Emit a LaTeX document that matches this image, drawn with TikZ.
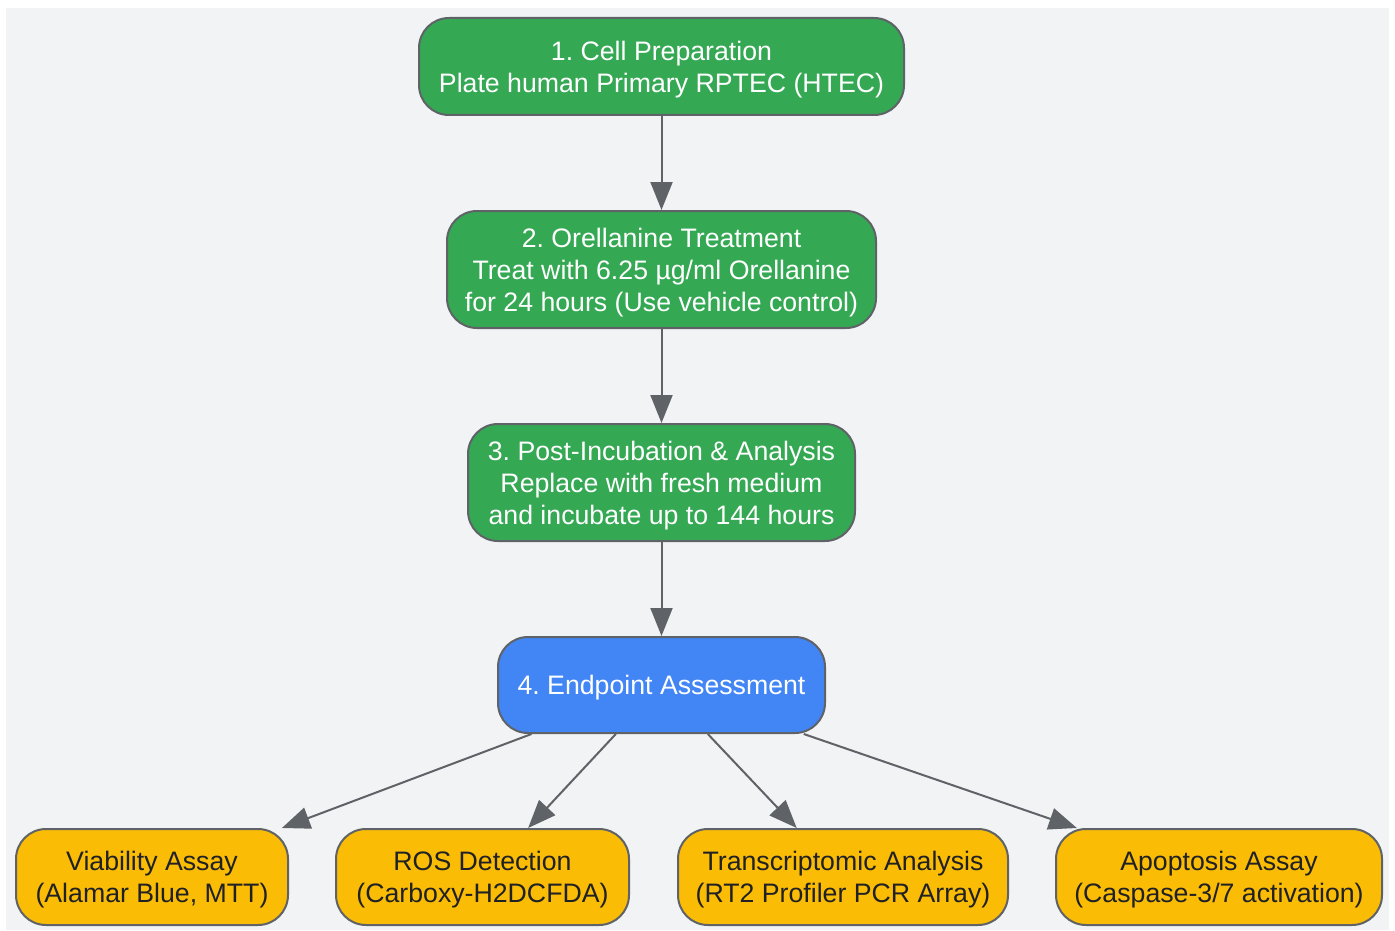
\documentclass[tikz,border=0pt]{standalone}
\usepackage{fontspec}
\setmainfont{Liberation Sans}
\usetikzlibrary{arrows.meta}
\definecolor{bggray}{HTML}{F1F3F4}
\definecolor{edgegray}{HTML}{5F6368}
\definecolor{stepgreen}{HTML}{34A853}
\definecolor{stepblue}{HTML}{4285F4}
\definecolor{stepyellow}{HTML}{FBBC05}
\definecolor{darktext}{HTML}{202124}
\frenchspacing
% strut that pushes the first line down a little
\newcommand{\topstrut}{\rule{0pt}{25.5pt}}

\begin{document}
\begin{tikzpicture}[x=1pt, y=-1pt,
        box/.style={draw=edgegray, line width=2, rounded corners=30, align=center, inner sep=0,
            font=\fontsize{26.7}{32}\selectfont},
        greenbox/.style={box, fill=stepgreen, text=white},
        bluebox/.style={box, fill=stepblue, text=white},
        yellowbox/.style={box, fill=stepyellow, text=darktext, minimum height=96},
        arr/.style={draw=edgegray, line width=2, -{Triangle[length=28, width=22]}}]
            \useasboundingbox (0,0) rectangle (1395,931);
            \fill[white] (0,0) rectangle (1395,931);
            \fill[bggray] (6,8) rectangle (1389,930);

            \node[greenbox, minimum width=485, minimum height=97] (prep) at (661.5,66.5) {\topstrut 1. Cell Preparation\\Plate human Primary RPTEC (HTEC)};
            \node[greenbox, minimum width=429, minimum height=117] (treat) at (661.5,269.5) {\topstrut 2. Orellanine Treatment\\Treat with 6.25 µg/ml Orellanine\\for 24 hours (Use vehicle control)};
            \node[greenbox, minimum width=387, minimum height=117] (post) at (661.5,482.5) {\topstrut 3. Post-Incubation \& Analysis\\Replace with fresh medium\\and incubate up to 144 hours};
            \node[bluebox, minimum width=327, minimum height=96] (endp) at (661.5,685) {\topstrut 4. Endpoint Assessment};

            \node[yellowbox, minimum width=272] (viab) at (152,877) {\topstrut Viability Assay\\(Alamar Blue, MTT)};
            \node[yellowbox, minimum width=293] (ros) at (482.5,877) {\topstrut ROS Detection\\(Carboxy-H2DCFDA)};
            \node[yellowbox, minimum width=330] (trans) at (843,877) {\topstrut Transcriptomic Analysis\\(RT2 Profiler PCR Array)};
            \node[yellowbox, minimum width=326] (apop) at (1219,877) {\topstrut Apoptosis Assay\\(Caspase-3/7 activation)};

            \draw[arr] (prep) -- (treat);
            \draw[arr] (treat) -- (post);
            \draw[arr] (post) -- (endp);
            \draw[arr] (endp) -- (viab);
            \draw[arr] (endp) -- (ros);
            \draw[arr] (endp) -- (trans);
            \draw[arr] (endp) -- (apop);
        \end{tikzpicture}
\end{document}
